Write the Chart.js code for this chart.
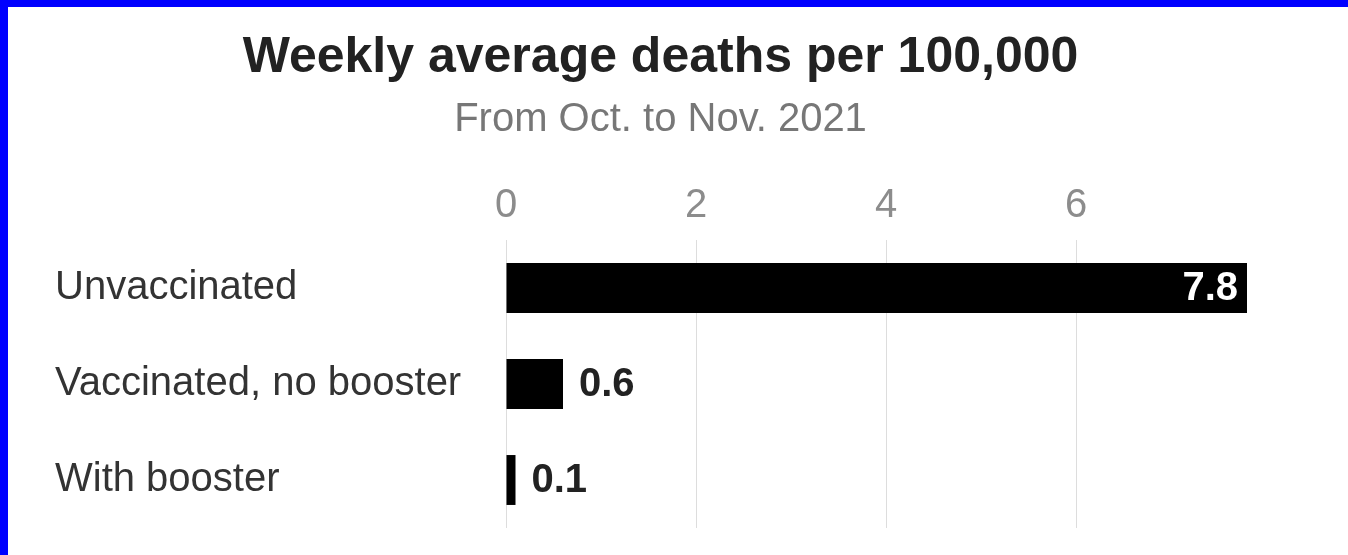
<!DOCTYPE html>
<html>
<head>
<meta charset="utf-8">
<script src="https://cdn.jsdelivr.net/npm/chart.js@4.4.0/dist/chart.umd.min.js"></script>
<style>
  html, body { margin: 0; padding: 0; }
  body { width: 1348px; height: 555px; background: #0000ff; overflow: hidden; position: relative; }
  #frame { position: absolute; left: 8px; top: 7px; width: 1340px; height: 548px; background: #fff; }
</style>
</head>
<body>
<div id="frame"><canvas id="deathsChart" width="1340" height="548"></canvas></div>
<script>
// Weekly average deaths per 100,000, Oct.-Nov. 2021
const groups = ['Unvaccinated', 'Vaccinated, no booster', 'With booster'];
const deaths = [7.8, 0.6, 0.1];
const tickValues = [0, 2, 4, 6];

const FONT = "'Liberation Sans', Arial, Helvetica, sans-serif";

// value labels: inside the long bar in white, beside the short ones in black
const valueLabels = {
    id: 'valueLabels',
    afterDatasetsDraw(chart) {
        const ctx = chart.ctx;
        const meta = chart.getDatasetMeta(0);
        ctx.save();
        ctx.font = 'bold 40px ' + FONT;
        ctx.textBaseline = 'middle';
        meta.data.forEach((bar, i) => {
            const txt = deaths[i].toFixed(1);
            const w = bar.x - bar.base;
            if (w > 150) {
                ctx.fillStyle = '#ffffff';
                ctx.textAlign = 'right';
                ctx.fillText(txt, bar.x - 9, bar.y + 1);
            } else {
                ctx.fillStyle = '#222222';
                ctx.textAlign = 'left';
                ctx.fillText(txt, bar.x + 16, bar.y + 1);
            }
        });
        ctx.restore();
    }
};

const ctx = document.getElementById('deathsChart').getContext('2d');
new Chart(ctx, {
    type: 'bar',
    data: {
        labels: groups,
        datasets: [{
            data: deaths,
            backgroundColor: '#000000',
            borderWidth: 0,
            categoryPercentage: 1,
            barPercentage: 0.52
        }]
    },
    options: {
        indexAxis: 'y',
        responsive: false,
        animation: false,
        layout: { padding: { left: 47, right: 82, top: 0, bottom: 20 } },
        plugins: {
            legend: { display: false },
            tooltip: { enabled: false },
            title: {
                display: true,
                text: 'Weekly average deaths per 100,000',
                color: '#222222',
                font: { family: FONT, size: 50, weight: 'bold' },
                padding: { top: 21, bottom: 0 }
            },
            subtitle: {
                display: true,
                text: 'From Oct. to Nov. 2021',
                color: '#777777',
                font: { family: FONT, size: 40 },
                padding: { top: 8, bottom: 28 }
            }
        },
        scales: {
            x: {
                position: 'top',
                min: 0,
                max: 8,
                afterBuildTicks(scale) {
                    scale.ticks = tickValues.map(v => ({ value: v }));
                },
                ticks: {
                    color: '#8c8c8c',
                    font: { family: FONT, size: 40 },
                    padding: 10
                },
                grid: { color: '#dddddd', lineWidth: 1, drawTicks: false },
                border: { display: false }
            },
            y: {
                afterFit(scale) { scale.width = 451; },
                ticks: {
                    crossAlign: 'far',
                    color: '#333333',
                    font: { family: FONT, size: 40 }
                },
                grid: { display: false, drawTicks: false },
                border: { display: false }
            }
        }
    },
    plugins: [valueLabels]
});
</script>
</body>
</html>
